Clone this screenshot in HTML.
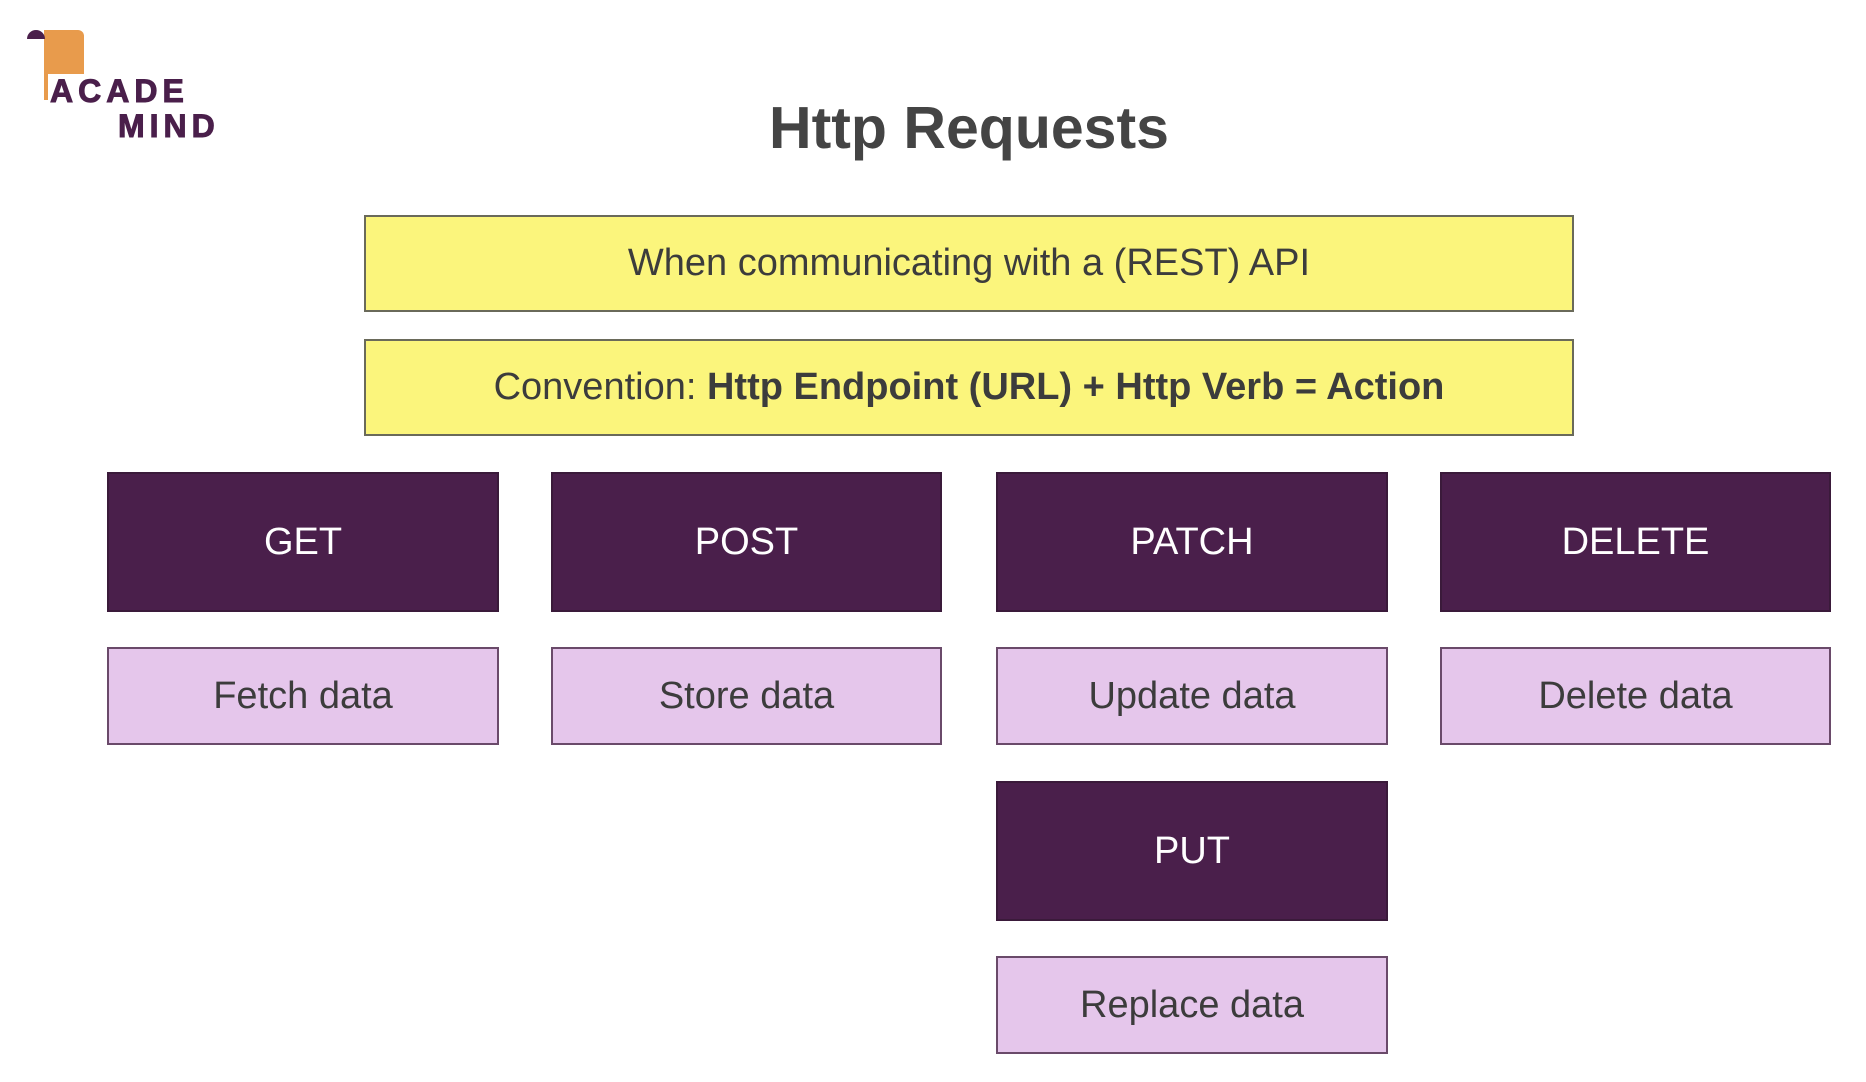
<!DOCTYPE html>
<html><head><meta charset="utf-8"><style>
body{margin:0;width:1866px;height:1082px;background:#fff;position:relative;overflow:hidden;font-family:"Liberation Sans",sans-serif;}
.b{position:absolute;display:flex;align-items:center;justify-content:center;box-sizing:border-box;}
.y{background:#fbf57c;border:2px solid #6a6a5a;color:#3c3c3c;font-size:38px;left:364px;width:1210px;height:97px;}
.p{background:#4a1f4b;color:#fff;font-size:38px;height:140px;border:2px solid #3a1a3a;}
.l{background:#e5c6eb;border:2px solid #6a4a6a;color:#3c3c3c;font-size:38px;height:98px;}
</style></head><body>
<div style="position:absolute;left:44px;top:30px;width:40px;height:70px;background:#e89b4c;border-radius:0 6px 0 0"></div>
<div style="position:absolute;left:27px;top:30px;width:18px;height:9px;background:#4a1f4b;border-radius:9px 9px 0 0"></div>
<div style="position:absolute;left:48px;top:74px;font-size:32px;font-weight:bold;color:#4a1f4b;letter-spacing:5px;background:#fff;padding:0 2px;line-height:34px;-webkit-text-stroke:1px #4a1f4b">ACADE</div>
<div style="position:absolute;left:118px;top:109px;font-size:32px;font-weight:bold;color:#4a1f4b;letter-spacing:5px;line-height:34px;-webkit-text-stroke:1px #4a1f4b">MIND</div>
<div style="position:absolute;left:0;width:1938px;top:94px;text-align:center;font-size:59px;font-weight:bold;color:#444">Http Requests</div>
<div class="b y" style="top:215px">When communicating with a (REST) API</div>
<div class="b y" style="top:339px">Convention:&nbsp;<b>Http Endpoint (URL) + Http Verb = Action</b></div>
<div class="b p" style="left:107px;width:392px;top:472px">GET</div>
<div class="b p" style="left:551px;width:391px;top:472px">POST</div>
<div class="b p" style="left:996px;width:392px;top:472px">PATCH</div>
<div class="b p" style="left:1440px;width:391px;top:472px">DELETE</div>
<div class="b l" style="left:107px;width:392px;top:647px">Fetch data</div>
<div class="b l" style="left:551px;width:391px;top:647px">Store data</div>
<div class="b l" style="left:996px;width:392px;top:647px">Update data</div>
<div class="b l" style="left:1440px;width:391px;top:647px">Delete data</div>
<div class="b p" style="left:996px;width:392px;top:781px">PUT</div>
<div class="b l" style="left:996px;width:392px;top:956px">Replace data</div>
</body></html>
